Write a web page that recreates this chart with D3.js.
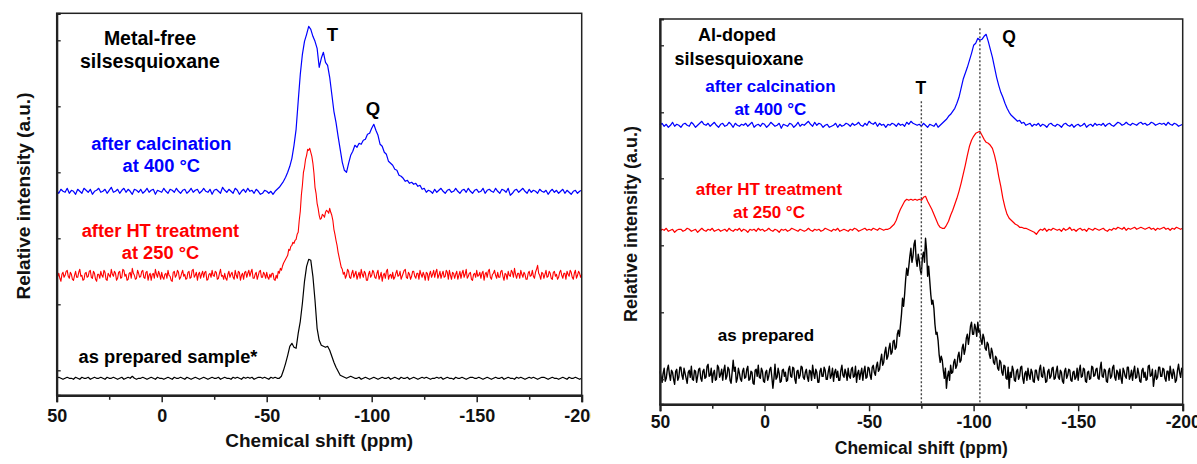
<!DOCTYPE html>
<html><head><meta charset="utf-8">
<script src="https://cdn.jsdelivr.net/npm/d3@7"></script>
<style>
body{margin:0;background:#fff}
svg{display:block}
text{font-family:"Liberation Sans",Arial,Helvetica,sans-serif;font-weight:bold}
</style>
</head><body>
<script>
// ---------------- data ----------------
const ppmStart = 50, ppmEnd = -200;           // each spectrum spans 50 .. -200 ppm, evenly sampled
const majorTicks = [50, 0, -50, -100, -150, -200];
const minorTicks = [25, -25, -75, -125, -175];
const yTicksLeft = [25, 91, 157, 223, 289, 355];
const yTicksRight = [25, 92, 159, 226, 292, 359];

const xTitle = "Chemical shift (ppm)";
const yTitle = "Relative intensity (a.u.)";
const leftTitle = ["Metal-free", "silsesquioxane"];
const rightTitle = ["Al-doped", "silsesquioxane"];
const leftSeriesLabels = [["after calcination", "at 400 °C"], ["after HT treatment", "at 250 °C"], ["as prepared sample*"]];
const rightSeriesLabels = [["after calcination", "at 400 °C"], ["after HT treatment", "at 250 °C"], ["as prepared"]];
const peakLabels = ["T", "Q"];
const markerShifts = [-75, -103];     // dotted reference lines (ppm), right panel
const markerTops = [303, 376];        // intensity level where each dotted line starts

// vertical offsets of the stacked spectra (a.u.)
const leftOffsets = [204, 120, 17];
const rightOffsets = [279, 174, 30];

// ---- Metal-free, after calcination at 400 °C (blue), 1 ppm step ----
const leftBlue = [
1,-2,2,0,-1,3,-2,1,0,-3,
2,0,-2,3,1,-1,2,-3,0,1,
3,-1,0,2,-2,1,4,-1,0,2,
-2,1,3,-1,2,0,-3,2,1,-1,
2,-2,0,3,-1,1,2,-3,1,0,
-1,3,0,-2,2,1,-1,3,0,-2,
1,2,-2,0,3,-1,1,2,-2,0,
3,0,-1,2,-3,1,2,0,-2,4,
1,-1,2,0,-2,3,1,-3,0,2,
-1,3,0,1,-2,2,0,-3,-2,1,
0,-2,0,-3,0,2,4,7,10,14,
19,25,33,46,62,90,117,137,150,157,
165,162,155,150,143,124,133,139,129,126,
114,97,80,69,55,42,29,21,19,28,
36,40,46,44,48,47,51,52,57,58,
63,67,61,56,47,45,39,37,30,28,
26,22,21,16,15,13,10,11,8,9,
7,8,5,6,2,3,-1,1,0,-2,
2,-1,1,3,0,-2,1,2,-1,0,
3,0,-2,1,2,-1,3,0,-2,1,
2,-1,0,3,-2,1,2,0,-1,3,
0,-2,2,1,-1,3,-4,-2,1,2,
-1,1,3,0,-2,2,-1,1,0,-2,
2,0,-1,1,-3,0,2,-1,1,-2,
0,2,-2,1,-1,-3,0,1,-2,0,
1];

// ---- Metal-free, after HT treatment at 250 °C (red), 0.5 ppm step ----
const leftRed = [
-4,-1,2,-3,-6,1,3,-2,0,4,5,-1,-3,3,1,-4,-5,0,4,-2,
-2,3,6,-1,0,-5,-4,2,3,-2,-1,4,5,-2,-3,4,2,-4,-6,1,
1,-3,4,0,-2,5,3,-4,-5,2,0,-2,6,1,-1,4,2,-5,-3,3,
4,-3,-2,6,5,-1,1,-5,-4,2,3,-3,7,2,0,-4,-3,5,2,-2,
-1,4,5,-2,-3,3,4,-5,0,2,-5,1,2,-3,6,1,-2,4,1,-4,
3,-2,-4,1,2,-3,5,0,-1,-5,-6,3,4,-2,0,5,3,-4,-2,2,
5,-1,1,-4,-3,3,4,-3,-2,5,6,-2,0,3,-5,1,3,-3,1,4,
-2,3,4,-5,-4,1,2,-2,5,0,-1,4,3,-4,-3,2,6,-1,0,-4,
2,-3,-5,1,4,-2,1,3,-2,-4,5,0,-3,4,3,-5,0,2,-4,3,
4,-2,2,5,-1,3,6,-3,-3,1,3,-4,0,4,5,-2,-2,3,1,-3,
3,-2,-4,1,-2,2,2,-4,-5,0,-3,4,2,7,5,9,12,14,16,18,
20,26,25,29,30,33,32,35,36,41,43,55,64,80,90,103,108,116,120,126,
125,127,123,119,112,102,88,82,72,67,60,56,57,61,60,58,63,65,64,62,
67,63,60,55,46,41,35,30,23,18,13,8,6,1,3,-3,0,6,4,-2,
-3,2,5,-2,1,4,-4,0,3,-3,6,1,-2,4,2,-5,-5,1,4,-2,
0,5,3,-2,-3,2,5,-4,-1,3,-6,0,2,-3,4,6,-4,0,1,-3,
3,-4,-2,2,5,-1,0,4,-4,-1,2,5,6,-2,-3,3,1,-4,-1,4,
4,-1,-3,2,2,-4,5,1,-2,3,0,-5,3,2,-5,1,4,-2,1,5,
-2,3,6,-3,0,4,-3,1,4,-2,-1,5,3,-4,5,0,-4,3,2,-3,
1,4,-4,0,4,-3,2,5,-2,1,6,-3,-1,2,3,-4,-5,1,2,-2,
5,-1,0,3,-3,2,4,-5,1,3,-2,4,6,-2,-4,1,2,5,0,-3,
3,-2,-2,4,5,-1,-5,2,1,-4,4,0,-1,5,3,-2,7,1,-3,2,
2,-3,5,1,-2,3,1,-4,-4,2,4,-1,0,5,-1,-3,3,6,10,2,
0,-4,3,2,-3,1,5,-2,-1,4,2,-3,-4,3,4,-1,1,-4,-2,3,
5,0,-3,2,2,-4,4,1,-1,5,3,-2,-4,2,5,-3,0,4,2,-2,
1];

// ---- Metal-free, as prepared sample* (black), 1 ppm step ----
const leftBlack = [
0,1,0,-1,0,1,0,0,-1,1,
0,-1,1,0,0,1,-1,0,1,0,
0,1,0,-1,1,0,0,1,0,-1,
0,1,-1,0,1,0,2,0,-1,0,
0,1,0,-1,0,1,0,-1,1,0,
0,-1,0,1,0,-1,1,0,0,1,
0,-1,1,0,-1,0,1,0,-1,0,
1,0,-1,0,1,0,0,1,-1,0,
1,0,0,-1,1,0,1,0,-1,1,
0,1,0,1,-1,0,1,1,0,1,
0,-1,1,0,1,0,0,2,8,15,
23,32,35,31,30,45,57,75,97,112,
119,118,102,78,50,38,33,32,31,32,
28,22,16,11,7,3,2,1,0,1,
2,1,0,0,1,-1,0,1,0,-1,
0,1,0,-1,0,1,0,0,1,-1,
0,1,0,-1,1,0,0,1,-1,0,
1,0,-1,0,1,0,1,0,-1,0,
0,1,0,1,-1,0,1,0,0,-1,
1,0,0,1,0,-1,0,1,1,0,
0,1,0,-1,0,1,0,-1,0,1,
0,0,1,-1,0,1,0,0,-1,1,
0,1,0,-1,0,1,0,1,0,-1,
0,1,1,0,-1,0,1,0,0,-1,
0,1,0,-1,1,0,0,1,0,-1,
0];

// ---- Al-doped, after calcination at 400 °C (blue), 1 ppm step ----
const rightBlue = [
0,2,-1,1,-2,0,3,-1,1,0,
-2,1,2,0,-1,3,1,-2,0,2,
4,1,0,2,-1,1,3,0,-2,1,
2,-1,0,3,1,-2,2,0,-1,1,
0,2,-1,1,3,-2,0,1,-1,2,
1,-2,0,3,1,-1,0,2,-3,1,
0,-1,2,1,-2,0,3,-1,1,0,
2,4,1,-1,3,0,2,1,-2,0,
1,-2,-1,0,2,-2,1,-1,0,2,
1,-1,2,0,1,3,0,-1,2,0,
4,2,1,3,-1,2,0,1,-2,1,
0,2,1,-1,2,0,1,-1,3,1,
4,2,1,0,1,-1,2,0,-2,1,
0,-1,2,-2,0,2,4,6,9,11,
14,17,22,28,37,46,52,58,65,72,
80,82,87,85,86,89,91,84,76,68,
58,48,40,33,28,22,17,13,10,8,
6,4,5,2,3,0,1,2,-1,1,
0,2,-1,1,0,-2,1,2,0,-1,
1,0,-2,1,2,0,-1,1,-2,0,
1,-1,0,2,-2,0,1,-1,2,0,
1,0,2,-1,1,2,0,-1,1,3,
2,0,1,3,1,0,2,1,0,2,
3,1,2,0,1,3,2,0,1,2,
1,2,0,3,1,0,2,1,-1,0,
1];

// ---- Al-doped, after HT treatment at 250 °C (red), 1 ppm step ----
const rightRed = [
-1,1,0,2,-1,0,1,-2,0,1,
1,-1,0,2,1,-1,0,1,-2,0,
2,0,-1,1,0,2,-1,0,1,-1,
0,1,-1,2,0,-1,1,0,2,-1,
1,0,-2,1,0,1,-1,2,0,1,
-1,0,2,0,-1,1,0,-2,1,0,
1,-1,0,2,1,0,-1,1,0,-1,
0,2,0,-1,1,0,1,-1,0,2,
1,0,-1,1,0,2,-1,0,1,0,
-1,1,0,2,1,-1,0,1,2,0,
1,0,2,1,0,2,1,0,1,1,
2,4,6,10,16,21,25,29,31,30,
31,30,31,30,31,30,33,34,29,25,
21,16,11,6,3,2,2,5,9,15,
20,26,32,39,47,56,65,75,84,90,
94,97,98,99,95,91,88,87,85,82,
75,66,54,44,32,23,16,12,10,8,
6,5,3,3,2,2,1,0,-1,-2,
-4,-1,1,0,2,-1,1,0,2,1,
0,1,-1,2,0,1,3,0,1,-1,
1,2,0,1,-1,2,1,0,2,1,
0,1,2,0,-1,1,0,2,1,3,
2,1,3,0,2,1,2,3,1,2,
3,2,1,2,3,1,2,0,2,1,
2,3,1,2,0,2,1,3,2,1,
2];

// ---- Al-doped, as prepared (black), 0.5 ppm step ----
const rightBlack = [
3,-2,-8,1,6,-7,-4,5,9,0,-6,4,2,-5,-10,3,5,-6,-3,7,
7,-1,-5,6,1,-4,-9,2,4,-3,8,-5,-6,4,3,-8,-2,5,6,-4,
-7,3,5,-4,-3,8,10,-2,-1,6,-8,1,4,-6,-5,9,7,-3,0,5,
-6,4,9,-5,-2,7,5,-6,-9,2,14,3,7,-8,-4,6,1,-5,-7,3,
6,-4,-3,5,8,-6,-5,3,2,-9,-10,4,5,-2,9,-3,-4,6,3,-7,
-8,2,4,-6,-2,5,7,-3,-14,-4,10,-5,-3,6,1,-8,-7,4,5,-2,
2,-7,-6,5,8,-2,-3,7,6,-5,-9,3,4,-4,-1,8,7,-3,-5,2,
5,-3,-7,4,3,-6,9,1,-4,5,2,-8,-8,3,6,-2,-2,7,4,-5,
-5,3,8,-4,-1,6,-7,2,5,-3,3,-6,-6,4,9,-1,-3,5,1,-6,
6,-2,-4,5,7,-3,-2,8,-8,1,4,-5,1,6,-6,3,8,-4,-3,7,
6,-1,-5,7,9,2,-1,8,12,3,5,14,20,9,12,22,27,15,18,26,
31,20,22,33,34,25,27,40,44,38,49,60,76,68,80,95,106,99,108,118,
126,112,118,130,134,115,108,120,114,104,100,117,122,112,136,124,98,108,94,80,
70,74,66,50,40,42,34,20,12,18,14,4,-4,6,-14,-2,3,-6,9,1,
2,12,15,6,9,18,22,12,14,26,30,20,25,36,40,30,38,48,52,40,
40,50,46,38,52,42,44,34,30,40,36,26,24,32,30,20,16,26,22,12,
10,18,16,6,4,14,12,2,-1,9,8,-4,-5,7,-14,2,-3,8,4,-6,
-7,3,5,-5,-2,7,8,-4,-9,1,3,-6,6,-1,-5,5,2,-7,-8,4,
4,-3,-6,5,9,-2,-3,7,1,-8,-7,3,5,-4,-2,6,7,-5,-4,3,
8,-3,-5,4,2,-7,-9,3,6,-4,-1,5,4,-6,-7,2,3,-5,-3,6,
-6,4,9,-3,-2,6,5,-7,-8,2,3,-5,-4,8,7,-2,-1,5,6,-4,
-5,6,12,-2,-3,5,4,-7,-8,3,6,-4,-2,7,9,-3,-6,4,2,-5,
5,-4,-9,6,3,-2,-4,7,7,-5,-2,4,-6,3,8,-4,-3,6,1,-7,
-8,4,6,-3,2,-6,-5,8,9,-2,-1,5,-12,-4,4,-5,-3,7,7,-2,
-2,6,5,-4,-7,3,3,-6,8,1,-4,5,1,-8,-6,4,10,2,-3,6,
4];

// ---------------- drawing ----------------
const W = 1197, H = 464;
const svg = d3.select("body").append("svg").attr("width", W).attr("height", H);
svg.append("defs").append("clipPath").attr("id", "clipL")
  .append("rect").attr("x", 0).attr("y", 0).attr("width", 591).attr("height", H);

const COLORS = ["#0000ff", "#ff0000", "#000000"];

function panel(cfg) {
  const x = d3.scaleLinear().domain([ppmStart, ppmEnd]).range([cfg.left, cfg.right]);
  const y = d3.scaleLinear().domain([0, cfg.yMax]).range([cfg.bottom, cfg.top]);
  const g = svg.append("g");
  if (cfg.clip) g.attr("clip-path", "url(#" + cfg.clip + ")");

  // spectra
  cfg.series.forEach((vals, k) => {
    const step = (ppmStart - ppmEnd) / (vals.length - 1);
    const line = d3.line()
      .x((d, i) => x(ppmStart - i * step))
      .y(d => y(d + cfg.offsets[k]));
    g.append("path").attr("d", line(vals))
      .attr("fill", "none").attr("stroke", COLORS[k])
      .attr("stroke-width", cfg.widths[k]).attr("stroke-linejoin", "round");
  });

  // dotted markers
  if (cfg.markers) {
    cfg.markers.forEach((m, k) => {
      g.append("line").attr("x1", x(m)).attr("x2", x(m))
        .attr("y1", y(cfg.markerTops[k])).attr("y2", cfg.bottom)
        .attr("stroke", "#444").attr("stroke-width", 1.4)
        .attr("stroke-dasharray", "2,2");
    });
  }

  // frame
  g.append("rect").attr("x", cfg.left).attr("y", cfg.top)
    .attr("width", cfg.right - cfg.left).attr("height", cfg.bottom - cfg.top)
    .attr("fill", "none").attr("stroke", "#222").attr("stroke-width", 1.5);

  // x axis
  const ax = g.append("g").attr("transform", `translate(0,${cfg.bottom})`)
    .call(d3.axisBottom(x).tickValues(majorTicks).tickSize(7).tickPadding(4)
      .tickFormat(d => String(d)));
  ax.select(".domain").attr("stroke", "#222").attr("stroke-width", 2.2);
  ax.selectAll(".tick line").attr("stroke", "#222").attr("stroke-width", 1.5);
  ax.selectAll("text").attr("font-size", cfg.tickFont).attr("fill", "#111")
    .attr("dy", null).attr("y", cfg.tickBase - cfg.bottom);
  const axm = g.append("g").attr("transform", `translate(0,${cfg.bottom})`)
    .call(d3.axisBottom(x).tickValues(minorTicks).tickSize(4.5).tickFormat(""));
  axm.select(".domain").remove();
  axm.selectAll(".tick line").attr("stroke", "#222").attr("stroke-width", 1.5);

  // y axis (unlabelled, inward ticks)
  const ay = g.append("g").attr("transform", `translate(${cfg.left},0)`)
    .call(d3.axisRight(y).tickValues(cfg.yTicks).tickSize(4).tickFormat(""));
  ay.select(".domain").attr("stroke", "#222").attr("stroke-width", 2.2);
  ay.selectAll(".tick line").attr("stroke", "#222").attr("stroke-width", 1.3);

  // axis titles
  svg.append("text").attr("x", (cfg.left + cfg.right) / 2).attr("y", cfg.xTitleBase)
    .attr("text-anchor", "middle").attr("font-size", cfg.titleFont).attr("fill", "#111")
    .text(xTitle);
  svg.append("text")
    .attr("transform", `translate(${cfg.yTitleX},${cfg.yTitleY}) rotate(-90)`)
    .attr("text-anchor", "middle").attr("font-size", cfg.yTitleFont).attr("fill", "#111")
    .text(yTitle);
  return { x, y, g };
}

function label(p, txt, ppm, v, size, color) {
  p.g.append("text").attr("x", p.x(ppm)).attr("y", p.y(v))
    .attr("text-anchor", "middle").attr("font-size", size).attr("fill", color)
    .text(txt);
}

// ----- left panel -----
const L = panel({
  left: 56.7, right: 581.7, top: 13.3, bottom: 395.3, yMax: 382,
  series: [leftBlue, leftRed, leftBlack], offsets: leftOffsets, widths: [1.2, 1.1, 1.2],
  yTicks: yTicksLeft, tickFont: 18, tickBase: 422.5, xTitleBase: 446.5, titleFont: 19,
  yTitleX: 29.5, yTitleY: 196, yTitleFont: 19, clip: "clipL"
});
label(L, leftTitle[0], 5.6, 350.3, 19.5, "#000");
label(L, leftTitle[1], 5.6, 327.8, 19.5, "#000");
label(L, peakLabels[0], -81.3, 354.3, 18.5, "#000");
label(L, peakLabels[1], -100.6, 280.3, 18.5, "#000");
label(L, leftSeriesLabels[0][0], 0.2, 245.3, 18.3, COLORS[0]);
label(L, leftSeriesLabels[0][1], 0.2, 223.6, 18.3, COLORS[0]);
label(L, leftSeriesLabels[1][0], 0.6, 158.3, 18.3, COLORS[1]);
label(L, leftSeriesLabels[1][1], 0.6, 136.6, 18.3, COLORS[1]);
label(L, leftSeriesLabels[2][0], -3, 32.6, 18.3, COLORS[2]);

// ----- right panel -----
const R = panel({
  left: 660, right: 1182.7, top: 19, bottom: 404.3, yMax: 385.3,
  series: [rightBlue, rightRed, rightBlack], offsets: rightOffsets, widths: [1.2, 1.2, 1.4],
  yTicks: yTicksRight, tickFont: 17.5, tickBase: 428.5, xTitleBase: 454, titleFont: 17.5,
  yTitleX: 637, yTitleY: 224, yTitleFont: 18,
  markers: markerShifts, markerTops: markerTops
});
label(R, rightTitle[0], 13.2, 363.6, 18, "#000");
label(R, rightTitle[1], 12.2, 339.3, 18, "#000");
label(R, peakLabels[0], -74.8, 310.3, 17.5, "#000");
label(R, peakLabels[1], -116.9, 361, 17.5, "#000");
label(R, rightSeriesLabels[0][0], -2.8, 312.6, 17, COLORS[0]);
label(R, rightSeriesLabels[0][1], -2.8, 289.3, 17, COLORS[0]);
label(R, rightSeriesLabels[1][0], -2.1, 209.3, 17, COLORS[1]);
label(R, rightSeriesLabels[1][1], -2.1, 186.3, 17, COLORS[1]);
label(R, rightSeriesLabels[2][0], -0.7, 63, 17, COLORS[2]);
</script>
</body></html>
